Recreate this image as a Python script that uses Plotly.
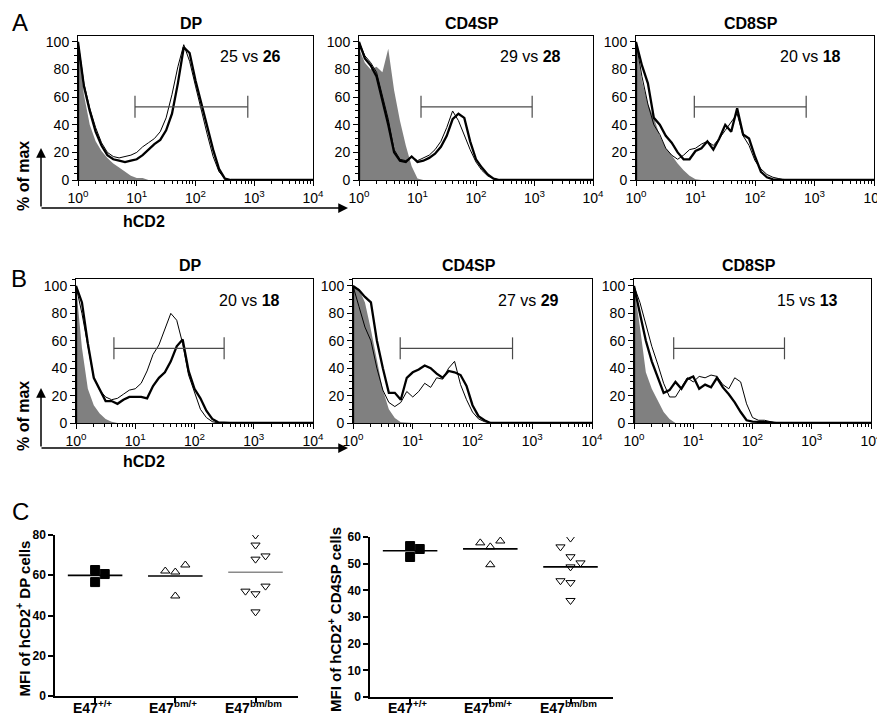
import numpy as np
import plotly.graph_objects as go

W, H = 885, 720
FONT = "Liberation Sans, Arial, Helvetica, sans-serif"

# ---------------- data: histograms (values in % of max at log10 bin positions) -------------
GRID_LOG = [0.0, 0.1, 0.2, 0.3, 0.4, 0.5, 0.6, 0.7, 0.8, 0.9, 1.0, 1.1, 1.2, 1.3,
            1.4, 1.5, 1.6, 1.7, 1.8, 1.9, 2.0, 2.1, 2.2, 2.3, 2.4, 2.5, 2.6, 4.0]

PANEL_TITLES = ["DP", "CD4SP", "CD8SP", "DP", "CD4SP", "CD8SP"]

A_DP_gray = [100, 62, 40, 28, 21, 16, 12, 9, 6, 3, 1.5, 1.5, 0]
A_DP_thin = [100, 70, 52, 38, 27, 20, 17, 16, 17, 18, 20, 24, 27, 30, 35, 45, 62, 82, 98, 86, 68, 50, 33, 17, 6, 1]
A_DP_thick = [100, 68, 50, 35, 25, 18, 15, 14, 13, 14, 15, 18, 22, 26, 29, 36, 48, 70, 96, 92, 72, 55, 38, 22, 8, 1]

A_CD4SP_gray = [95, 85, 80, 82, 78, 95, 65, 43, 25, 10, 1]
A_CD4SP_thin = [100, 90, 85, 78, 62, 44, 22, 15, 14, 17, 14, 16, 18, 22, 28, 38, 50, 43, 32, 22, 13, 7, 3, 1]
A_CD4SP_thick = [100, 88, 83, 75, 58, 40, 20, 14, 13, 17, 13, 14, 16, 19, 24, 32, 44, 48, 45, 28, 15, 9, 4, 1]

A_CD8SP_gray = [100, 72, 55, 45, 32, 23, 18, 12, 7, 3, 0.5]
A_CD8SP_thin = [100, 75, 55, 40, 33, 23, 18, 15, 18, 22, 23, 26, 28, 25, 30, 36, 42, 48, 32, 25, 14, 8, 4, 2, 1]
A_CD8SP_thick = [100, 83, 70, 45, 40, 32, 27, 20, 15, 15, 21, 23, 28, 22, 30, 40, 35, 52, 33, 30, 17, 6, 2, 0.5]

B_DP_gray = [100, 55, 25, 13, 7, 3, 1]
B_DP_thin = [100, 80, 55, 33, 24, 19, 17, 18, 21, 24, 25, 29, 38, 50, 57, 68, 80, 75, 58, 35, 22, 10, 4, 1]
B_DP_thick = [100, 88, 58, 33, 25, 16, 16, 14, 17, 19, 19, 19, 18, 27, 33, 37, 45, 56, 61, 38, 25, 18, 9, 3, 0.5]

B_CD4SP_gray = [100, 98, 88, 68, 47, 24, 10, 3.6, 0.5]
B_CD4SP_thin = [100, 85, 70, 60, 40, 24, 15, 12, 15, 23, 19, 23, 29, 26, 33, 32, 40, 45, 28, 17, 8, 3, 1]
B_CD4SP_thick = [100, 97, 92, 88, 60, 40, 22, 22, 17, 33, 37, 39, 42, 40, 36, 33, 38, 37, 35, 27, 13, 5, 2]

B_CD8SP_gray = [100, 70, 37, 25, 16, 8, 3]
B_CD8SP_thin = [100, 88, 72, 56, 43, 29, 19, 19, 26, 33, 30, 34, 33, 35, 34, 28, 25, 33, 30, 14, 4, 2, 2, 1]
B_CD8SP_thick = [100, 80, 60, 45, 34, 22, 24, 30, 25, 32, 34, 25, 28, 26, 33, 26, 21, 15, 8, 2, 1, 1, 1, 0.5]

GRAY_SERIES = [A_DP_gray, A_CD4SP_gray, A_CD8SP_gray, B_DP_gray, B_CD4SP_gray, B_CD8SP_gray]
THIN_SERIES = [A_DP_thin, A_CD4SP_thin, A_CD8SP_thin, B_DP_thin, B_CD4SP_thin, B_CD8SP_thin]
THICK_SERIES = [A_DP_thick, A_CD4SP_thick, A_CD8SP_thick, B_DP_thick, B_CD4SP_thick, B_CD8SP_thick]

# gates (log10 bounds) and percentages
GATE_LO_LOG = [0.97, 1.06, 0.98, 0.64, 0.79, 0.67]
GATE_HI_LOG = [2.89, 2.96, 2.86, 2.50, 2.67, 2.54]
GATE_Y = [53, 53, 53, 54.5, 54.5, 54.5]
PCT_LEFT = ["25", "29", "20", "20", "27", "15"]
PCT_RIGHT = ["26", "28", "18", "18", "29", "13"]

# ---------------- data: MFI scatter (panel C) -------------
GENOTYPES = ["E47<sup>+/+</sup>", "E47<sup>bm/+</sup>", "E47<sup>bm/bm</sup>"]
DP_WT = [62.6, 60.6, 56.6]
DP_HET = [62.1, 61.6, 65.1, 49.7]
DP_HOM = [80.0, 75.0, 68.0, 69.6, 54.6, 52.1, 50.8, 41.8]
CD4_WT = [56.6, 55.5, 52.5]
CD4_HET = [57.8, 56.3, 58.5, 49.6]
CD4_HOM = [59.6, 56.3, 52.6, 50.3, 48.8, 43.6, 42.9, 36.2]

# horizontal jitter of the plotted symbols (layout only)
JIT_WT = [0.0, 0.12, 0.0]
JIT_HET = [-0.125, 0.0, 0.125, 0.0]
JIT_DP_HOM = [0.0, 0.0, 0.0, 0.125, 0.125, -0.125, 0.0, 0.0]
JIT_CD4_HOM = [0.0, -0.125, 0.0, 0.125, 0.0, -0.125, 0.0, 0.0]

# ---------------- layout geometry (pixels) -------------
HIST_X = [(70, 305), (351, 585), (628, 866), (68, 305), (345, 584), (626, 863)]
HIST_Y = [(28, 172)] * 3 + [(271, 415)] * 3
HIST_YMAX = [104.3] * 3 + [105.1] * 3
C_X = [(47, 290), (362, 605)]
C_Y = [(527, 688), (529, 689)]


def dom_x(a, b):
    return [a / W, b / W]


def dom_y(a, b):
    return [1 - b / H, 1 - a / H]


def pad(vals):
    return list(vals) + [0] * (len(GRID_LOG) - len(vals))


def label(text, px, py, size, angle=0, ref=("paper", "paper")):
    return dict(text=text, x=px / W if ref[0] == "paper" else px,
                y=1 - py / H if ref[1] == "paper" else py,
                xref=ref[0], yref=ref[1], showarrow=False, textangle=angle,
                xanchor="center", yanchor="middle",
                font=dict(family=FONT, size=size, color="black"))


fig = go.Figure()
layout = {}
annotations = []

minor_vals = [k * 10 ** d for d in range(4) for k in range(2, 10)]

for i in range(6):
    n = i + 1
    xn = "x" if n == 1 else f"x{n}"
    yn = "y" if n == 1 else f"y{n}"
    xs = [1.0] + [10 ** g for g in GRID_LOG]
    common = dict(xaxis=xn, yaxis=yn, mode="lines", showlegend=False, hoverinfo="skip")
    fig.add_trace(go.Scatter(x=xs, y=[0] + pad(GRAY_SERIES[i]), fill="tozeroy",
                             fillcolor="#808080", line=dict(width=0, color="#808080"), **common))
    fig.add_trace(go.Scatter(x=xs, y=[0] + pad(THIN_SERIES[i]),
                             line=dict(width=1.0, color="black"), **common))
    fig.add_trace(go.Scatter(x=xs, y=[0] + pad(THICK_SERIES[i]),
                             line=dict(width=2.3, color="black"), **common))
    # gate bracket
    lo, hi, gy = 10 ** GATE_LO_LOG[i], 10 ** GATE_HI_LOG[i], GATE_Y[i]
    fig.add_trace(go.Scatter(x=[lo, hi, None, lo, lo, None, hi, hi],
                             y=[gy, gy, None, gy - 8, gy + 8, None, gy - 8, gy + 8],
                             line=dict(width=1.2, color="#4a4a4a"), **common))

    layout["xaxis" if n == 1 else f"xaxis{n}"] = dict(
        type="log", range=[0, 4], domain=dom_x(*HIST_X[i]), anchor=yn,
        tickvals=[1, 10, 100, 1000, 10000],
        ticktext=["10<sup>0</sup>", "10<sup>1</sup>", "10<sup>2</sup>", "10<sup>3</sup>", "10<sup>4</sup>"],
        ticks="outside", ticklen=5, tickwidth=1, tickcolor="black",
        minor=dict(tickvals=minor_vals, ticks="outside", ticklen=3, tickcolor="black", showgrid=False),
        showline=True, linecolor="black", linewidth=1, mirror=True,
        showgrid=False, zeroline=False, automargin=False,
        tickfont=dict(family=FONT, size=14, color="black"), fixedrange=True)
    layout["yaxis" if n == 1 else f"yaxis{n}"] = dict(
        range=[0, HIST_YMAX[i]], domain=dom_y(*HIST_Y[i]), anchor=xn,
        tickvals=[0, 20, 40, 60, 80, 100],
        ticks="outside", ticklen=5, tickwidth=1, tickcolor="black",
        minor=dict(dtick=5, ticks="outside", ticklen=3, tickcolor="black", showgrid=False),
        showline=True, linecolor="black", linewidth=1, mirror=True,
        showgrid=False, zeroline=False, automargin=False,
        tickfont=dict(family=FONT, size=14, color="black"), fixedrange=True)

    # panel title
    cx = (HIST_X[i][0] + HIST_X[i][1]) / 2 - 4
    ty = 15 if i < 3 else 257
    annotations.append(label(f"<b>{PANEL_TITLES[i]}</b>", cx, ty, 16))
    # percentages
    annotations.append(label(f"{PCT_LEFT[i]} vs <b>{PCT_RIGHT[i]}</b>", 2.93, 89.5, 16,
                             ref=(xn, yn)))

# ---------------- panel C -------------
groups_c = [
    [(DP_WT, JIT_WT, "square", "black"), (DP_HET, JIT_HET, "triangle-up-open", "black"),
     (DP_HOM, JIT_DP_HOM, "triangle-down-open", "#8a8a8a")],
    [(CD4_WT, JIT_WT, "square", "black"), (CD4_HET, JIT_HET, "triangle-up-open", "black"),
     (CD4_HOM, JIT_CD4_HOM, "triangle-down-open", "black")],
]
C_YMAX = [80, 60]
C_DTICK = [20, 10]
C_TITLES = ["<b>MFI of hCD2<sup>+</sup> DP cells</b>", "<b>MFI of hCD2<sup>+</sup> CD4SP cells</b>"]
C_TITLE_X = [15, 326]

for j in range(2):
    n = 7 + j
    xn, yn = f"x{n}", f"y{n}"
    for g, (vals, jit, sym, mean_col) in enumerate(groups_c[j]):
        m = float(np.mean(vals))
        fig.add_trace(go.Scatter(x=[g - 0.34, g + 0.34], y=[m, m], mode="lines",
                                 line=dict(color=mean_col, width=1.6), xaxis=xn, yaxis=yn,
                                 showlegend=False, hoverinfo="skip"))
        size = 9 if sym == "square" else 8
        fig.add_trace(go.Scatter(x=[g + d for d in jit], y=vals, mode="markers",
                                 marker=dict(symbol=sym, size=size, color="black",
                                             line=dict(width=1, color="black")),
                                 xaxis=xn, yaxis=yn, showlegend=False, hoverinfo="skip"))
        # category label (drawn as annotation so it sits close to the axis)
        annotations.append(dict(text=f"<b>{GENOTYPES[g]}</b>", x=g - 0.03, y=1 - 710 / H,
                                xref=xn, yref="paper", showarrow=False,
                                xanchor="center", yanchor="bottom",
                                font=dict(family=FONT, size=14, color="black")))
    layout[f"xaxis{n}"] = dict(
        range=[-0.5, 2.53], domain=dom_x(*C_X[j]), anchor=yn,
        tickvals=[0, 1, 2], showticklabels=False, ticks="outside", ticklen=5, tickwidth=1.5,
        tickcolor="black", showline=True, linecolor="black", linewidth=1.5,
        showgrid=False, zeroline=False, automargin=False, fixedrange=True)
    layout[f"yaxis{n}"] = dict(
        range=[0, C_YMAX[j]], domain=dom_y(*C_Y[j]), anchor=xn,
        dtick=C_DTICK[j], ticks="outside", ticklen=5, tickwidth=1.5, tickcolor="black",
        showline=True, linecolor="black", linewidth=1.5, showgrid=False, zeroline=False,
        automargin=False,
        tickfont=dict(family=FONT, size=12, color="black", weight="bold"), fixedrange=True)
    annotations.append(label(C_TITLES[j], C_TITLE_X[j], (C_Y[j][0] + C_Y[j][1]) / 2 + 3,
                             15, angle=-90))

# ---------------- decorations: panel letters, axis arrows, labels -------------
for letter, (lx, ly) in zip(["A", "B", "C"], [(12, 14), (11, 270), (12, 503)]):
    annotations.append(label(letter, lx, ly, 24))

for base in [200, 440]:
    top = base - 60
    # vertical arrow
    annotations.append(dict(x=33 / W, y=1 - top / H, ax=0, ay=base - top,
                            xref="paper", yref="paper", axref="pixel", ayref="pixel",
                            showarrow=True, arrowhead=2, arrowsize=1.3, arrowwidth=1.5,
                            arrowcolor="black", text=""))
    # horizontal arrow
    annotations.append(dict(x=340 / W, y=1 - base / H, ax=-(340 - 32), ay=0,
                            xref="paper", yref="paper", axref="pixel", ayref="pixel",
                            showarrow=True, arrowhead=2, arrowsize=1.3, arrowwidth=1.5,
                            arrowcolor="black", text=""))
    annotations.append(label("<b>% of max</b>", 15, base - 32, 16, angle=-90))
    annotations.append(label("<b>hCD2</b>", 136, base + 13, 16))

fig.update_layout(**layout)
fig.update_layout(width=W, height=H,
                  margin=dict(l=0, r=0, t=0, b=0, pad=0, autoexpand=False),
                  paper_bgcolor="white", plot_bgcolor="white", annotations=annotations,
                  font=dict(family=FONT, color="black"))

fig.write_html("out.html", config={"displayModeBar": False})
